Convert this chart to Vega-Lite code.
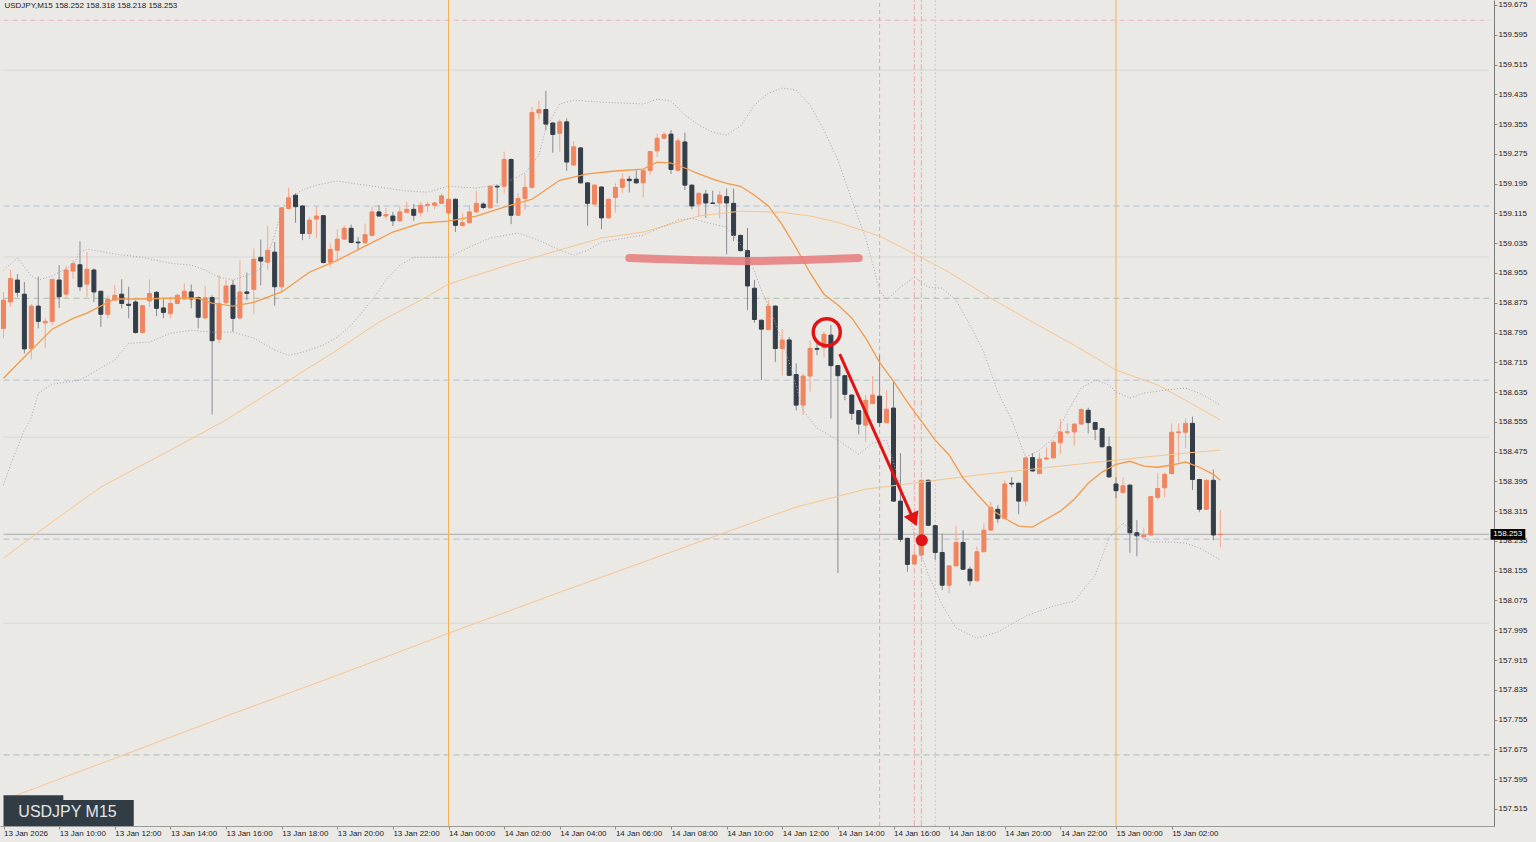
{
"$schema":"https://vega.github.io/schema/vega-lite/v6.json",
"width":1494,"height":826,
"autosize":{"type":"none"},
"padding":{"left":0,"top":0,"right":42,"bottom":16},
"background":"#EBE9E5",
"config":{"view":{"stroke":null},"font":"Liberation Sans","axis":{"labelFont":"Liberation Sans"}},
"datasets":{
"candles":[
{"t":"2026-01-13T08:00Z","o":158.806,"h":158.904,"l":158.780,"c":158.882},
{"t":"2026-01-13T08:15Z","o":158.877,"h":158.963,"l":158.864,"c":158.940},
{"t":"2026-01-13T08:30Z","o":158.936,"h":158.952,"l":158.891,"c":158.903},
{"t":"2026-01-13T08:45Z","o":158.898,"h":158.931,"l":158.739,"c":158.751},
{"t":"2026-01-13T09:00Z","o":158.752,"h":158.871,"l":158.723,"c":158.866},
{"t":"2026-01-13T09:15Z","o":158.866,"h":158.945,"l":158.806,"c":158.825},
{"t":"2026-01-13T09:30Z","o":158.821,"h":158.834,"l":158.754,"c":158.825},
{"t":"2026-01-13T09:45Z","o":158.825,"h":158.939,"l":158.815,"c":158.938},
{"t":"2026-01-13T10:00Z","o":158.936,"h":158.976,"l":158.861,"c":158.891},
{"t":"2026-01-13T10:15Z","o":158.898,"h":158.974,"l":158.885,"c":158.963},
{"t":"2026-01-13T10:30Z","o":158.960,"h":158.989,"l":158.939,"c":158.980},
{"t":"2026-01-13T10:45Z","o":158.977,"h":159.040,"l":158.906,"c":158.918},
{"t":"2026-01-13T11:00Z","o":158.925,"h":159.011,"l":158.891,"c":158.965},
{"t":"2026-01-13T11:15Z","o":158.963,"h":158.967,"l":158.877,"c":158.904},
{"t":"2026-01-13T11:30Z","o":158.906,"h":158.906,"l":158.810,"c":158.844},
{"t":"2026-01-13T11:45Z","o":158.844,"h":158.895,"l":158.833,"c":158.884},
{"t":"2026-01-13T12:00Z","o":158.882,"h":158.922,"l":158.880,"c":158.895},
{"t":"2026-01-13T12:15Z","o":158.898,"h":158.938,"l":158.860,"c":158.873},
{"t":"2026-01-13T12:30Z","o":158.871,"h":158.918,"l":158.833,"c":158.868},
{"t":"2026-01-13T12:45Z","o":158.877,"h":158.882,"l":158.792,"c":158.795},
{"t":"2026-01-13T13:00Z","o":158.795,"h":158.868,"l":158.793,"c":158.867},
{"t":"2026-01-13T13:15Z","o":158.880,"h":158.938,"l":158.864,"c":158.900},
{"t":"2026-01-13T13:30Z","o":158.903,"h":158.906,"l":158.839,"c":158.860},
{"t":"2026-01-13T13:45Z","o":158.861,"h":158.886,"l":158.833,"c":158.849},
{"t":"2026-01-13T14:00Z","o":158.846,"h":158.891,"l":158.833,"c":158.873},
{"t":"2026-01-13T14:15Z","o":158.873,"h":158.900,"l":158.871,"c":158.895},
{"t":"2026-01-13T14:30Z","o":158.885,"h":158.927,"l":158.883,"c":158.906},
{"t":"2026-01-13T14:45Z","o":158.904,"h":158.924,"l":158.860,"c":158.885},
{"t":"2026-01-13T15:00Z","o":158.889,"h":158.892,"l":158.806,"c":158.836},
{"t":"2026-01-13T15:15Z","o":158.834,"h":158.920,"l":158.832,"c":158.888},
{"t":"2026-01-13T15:30Z","o":158.889,"h":158.895,"l":158.575,"c":158.773},
{"t":"2026-01-13T15:45Z","o":158.777,"h":158.949,"l":158.766,"c":158.873},
{"t":"2026-01-13T16:00Z","o":158.875,"h":158.936,"l":158.873,"c":158.920},
{"t":"2026-01-13T16:15Z","o":158.922,"h":158.936,"l":158.797,"c":158.833},
{"t":"2026-01-13T16:30Z","o":158.834,"h":158.989,"l":158.830,"c":158.904},
{"t":"2026-01-13T16:45Z","o":158.904,"h":158.956,"l":158.882,"c":158.900},
{"t":"2026-01-13T17:00Z","o":158.911,"h":159.021,"l":158.846,"c":158.992},
{"t":"2026-01-13T17:15Z","o":158.997,"h":159.045,"l":158.922,"c":158.987},
{"t":"2026-01-13T17:30Z","o":158.984,"h":159.082,"l":158.963,"c":159.016},
{"t":"2026-01-13T17:45Z","o":159.011,"h":159.038,"l":158.867,"c":158.918},
{"t":"2026-01-13T18:00Z","o":158.918,"h":159.132,"l":158.904,"c":159.130},
{"t":"2026-01-13T18:15Z","o":159.128,"h":159.184,"l":159.126,"c":159.157},
{"t":"2026-01-13T18:30Z","o":159.164,"h":159.169,"l":159.090,"c":159.133},
{"t":"2026-01-13T18:45Z","o":159.135,"h":159.137,"l":159.043,"c":159.061},
{"t":"2026-01-13T19:00Z","o":159.061,"h":159.106,"l":159.046,"c":159.097},
{"t":"2026-01-13T19:15Z","o":159.100,"h":159.133,"l":159.048,"c":159.108},
{"t":"2026-01-13T19:30Z","o":159.109,"h":159.111,"l":158.981,"c":158.983},
{"t":"2026-01-13T19:45Z","o":158.984,"h":159.034,"l":158.970,"c":159.018},
{"t":"2026-01-13T20:00Z","o":159.016,"h":159.072,"l":158.989,"c":159.046},
{"t":"2026-01-13T20:15Z","o":159.046,"h":159.083,"l":159.044,"c":159.075},
{"t":"2026-01-13T20:30Z","o":159.075,"h":159.085,"l":159.035,"c":159.037},
{"t":"2026-01-13T20:45Z","o":159.038,"h":159.052,"l":159.018,"c":159.036},
{"t":"2026-01-13T21:00Z","o":159.036,"h":159.088,"l":159.034,"c":159.058},
{"t":"2026-01-13T21:15Z","o":159.056,"h":159.133,"l":159.054,"c":159.119},
{"t":"2026-01-13T21:30Z","o":159.119,"h":159.137,"l":159.106,"c":159.108},
{"t":"2026-01-13T21:45Z","o":159.108,"h":159.130,"l":159.099,"c":159.112},
{"t":"2026-01-13T22:00Z","o":159.108,"h":159.119,"l":159.081,"c":159.095},
{"t":"2026-01-13T22:15Z","o":159.095,"h":159.133,"l":159.093,"c":159.119},
{"t":"2026-01-13T22:30Z","o":159.118,"h":159.146,"l":159.116,"c":159.126},
{"t":"2026-01-13T22:45Z","o":159.126,"h":159.140,"l":159.095,"c":159.110},
{"t":"2026-01-13T23:00Z","o":159.118,"h":159.146,"l":159.106,"c":159.137},
{"t":"2026-01-13T23:15Z","o":159.137,"h":159.146,"l":159.119,"c":159.139},
{"t":"2026-01-13T23:30Z","o":159.137,"h":159.146,"l":159.126,"c":159.143},
{"t":"2026-01-13T23:45Z","o":159.142,"h":159.169,"l":159.140,"c":159.162},
{"t":"2026-01-14T00:00Z","o":159.116,"h":159.155,"l":159.114,"c":159.153},
{"t":"2026-01-14T00:15Z","o":159.153,"h":159.155,"l":159.065,"c":159.083},
{"t":"2026-01-14T00:30Z","o":159.082,"h":159.115,"l":159.080,"c":159.090},
{"t":"2026-01-14T00:45Z","o":159.090,"h":159.137,"l":159.088,"c":159.119},
{"t":"2026-01-14T01:00Z","o":159.119,"h":159.176,"l":159.117,"c":159.142},
{"t":"2026-01-14T01:15Z","o":159.140,"h":159.145,"l":159.127,"c":159.131},
{"t":"2026-01-14T01:30Z","o":159.130,"h":159.190,"l":159.128,"c":159.188},
{"t":"2026-01-14T01:45Z","o":159.188,"h":159.191,"l":159.142,"c":159.186},
{"t":"2026-01-14T02:00Z","o":159.188,"h":159.281,"l":159.169,"c":159.260},
{"t":"2026-01-14T02:15Z","o":159.260,"h":159.262,"l":159.086,"c":159.110},
{"t":"2026-01-14T02:30Z","o":159.110,"h":159.169,"l":159.108,"c":159.155},
{"t":"2026-01-14T02:45Z","o":159.155,"h":159.218,"l":159.124,"c":159.185},
{"t":"2026-01-14T03:00Z","o":159.185,"h":159.401,"l":159.183,"c":159.386},
{"t":"2026-01-14T03:15Z","o":159.385,"h":159.418,"l":159.368,"c":159.394},
{"t":"2026-01-14T03:30Z","o":159.394,"h":159.444,"l":159.339,"c":159.355},
{"t":"2026-01-14T03:45Z","o":159.358,"h":159.360,"l":159.278,"c":159.327},
{"t":"2026-01-14T04:00Z","o":159.330,"h":159.368,"l":159.281,"c":159.361},
{"t":"2026-01-14T04:15Z","o":159.361,"h":159.370,"l":159.229,"c":159.253},
{"t":"2026-01-14T04:30Z","o":159.245,"h":159.309,"l":159.243,"c":159.294},
{"t":"2026-01-14T04:45Z","o":159.291,"h":159.293,"l":159.195,"c":159.197},
{"t":"2026-01-14T05:00Z","o":159.197,"h":159.199,"l":159.082,"c":159.142},
{"t":"2026-01-14T05:15Z","o":159.140,"h":159.193,"l":159.138,"c":159.191},
{"t":"2026-01-14T05:30Z","o":159.186,"h":159.188,"l":159.073,"c":159.103},
{"t":"2026-01-14T05:45Z","o":159.103,"h":159.155,"l":159.101,"c":159.153},
{"t":"2026-01-14T06:00Z","o":159.158,"h":159.196,"l":159.117,"c":159.185},
{"t":"2026-01-14T06:15Z","o":159.185,"h":159.222,"l":159.169,"c":159.207},
{"t":"2026-01-14T06:30Z","o":159.207,"h":159.216,"l":159.171,"c":159.203},
{"t":"2026-01-14T06:45Z","o":159.207,"h":159.231,"l":159.195,"c":159.197},
{"t":"2026-01-14T07:00Z","o":159.197,"h":159.232,"l":159.158,"c":159.230},
{"t":"2026-01-14T07:15Z","o":159.230,"h":159.283,"l":159.218,"c":159.281},
{"t":"2026-01-14T07:30Z","o":159.283,"h":159.330,"l":159.267,"c":159.317},
{"t":"2026-01-14T07:45Z","o":159.317,"h":159.334,"l":159.315,"c":159.327},
{"t":"2026-01-14T08:00Z","o":159.328,"h":159.339,"l":159.221,"c":159.233},
{"t":"2026-01-14T08:15Z","o":159.231,"h":159.317,"l":159.229,"c":159.310},
{"t":"2026-01-14T08:30Z","o":159.307,"h":159.332,"l":159.178,"c":159.191},
{"t":"2026-01-14T08:45Z","o":159.191,"h":159.193,"l":159.126,"c":159.135},
{"t":"2026-01-14T09:00Z","o":159.140,"h":159.171,"l":159.106,"c":159.169},
{"t":"2026-01-14T09:15Z","o":159.167,"h":159.178,"l":159.103,"c":159.143},
{"t":"2026-01-14T09:30Z","o":159.143,"h":159.176,"l":159.140,"c":159.142},
{"t":"2026-01-14T09:45Z","o":159.143,"h":159.175,"l":159.102,"c":159.164},
{"t":"2026-01-14T10:00Z","o":159.160,"h":159.182,"l":159.005,"c":159.143},
{"t":"2026-01-14T10:15Z","o":159.142,"h":159.182,"l":159.041,"c":159.056},
{"t":"2026-01-14T10:30Z","o":159.056,"h":159.058,"l":159.013,"c":159.015},
{"t":"2026-01-14T10:45Z","o":159.015,"h":159.076,"l":158.855,"c":158.920},
{"t":"2026-01-14T11:00Z","o":158.914,"h":158.936,"l":158.821,"c":158.830},
{"t":"2026-01-14T11:15Z","o":158.828,"h":158.830,"l":158.667,"c":158.804},
{"t":"2026-01-14T11:30Z","o":158.803,"h":158.882,"l":158.801,"c":158.866},
{"t":"2026-01-14T11:45Z","o":158.866,"h":158.868,"l":158.716,"c":158.752},
{"t":"2026-01-14T12:00Z","o":158.752,"h":158.804,"l":158.680,"c":158.775},
{"t":"2026-01-14T12:15Z","o":158.775,"h":158.783,"l":158.678,"c":158.680},
{"t":"2026-01-14T12:30Z","o":158.682,"h":158.712,"l":158.586,"c":158.600},
{"t":"2026-01-14T12:45Z","o":158.600,"h":158.685,"l":158.573,"c":158.678},
{"t":"2026-01-14T13:00Z","o":158.678,"h":158.773,"l":158.636,"c":158.752},
{"t":"2026-01-14T13:15Z","o":158.752,"h":158.770,"l":158.734,"c":158.750},
{"t":"2026-01-14T13:30Z","o":158.754,"h":158.797,"l":158.728,"c":158.790},
{"t":"2026-01-14T13:45Z","o":158.788,"h":158.815,"l":158.564,"c":158.706},
{"t":"2026-01-14T14:00Z","o":158.706,"h":158.708,"l":158.149,"c":158.679},
{"t":"2026-01-14T14:15Z","o":158.679,"h":158.681,"l":158.613,"c":158.629},
{"t":"2026-01-14T14:30Z","o":158.627,"h":158.629,"l":158.560,"c":158.578},
{"t":"2026-01-14T14:45Z","o":158.585,"h":158.587,"l":158.521,"c":158.549},
{"t":"2026-01-14T15:00Z","o":158.546,"h":158.627,"l":158.501,"c":158.613},
{"t":"2026-01-14T15:15Z","o":158.604,"h":158.678,"l":158.602,"c":158.627},
{"t":"2026-01-14T15:30Z","o":158.624,"h":158.734,"l":158.541,"c":158.553},
{"t":"2026-01-14T15:45Z","o":158.553,"h":158.640,"l":158.551,"c":158.589},
{"t":"2026-01-14T16:00Z","o":158.592,"h":158.662,"l":158.340,"c":158.342},
{"t":"2026-01-14T16:15Z","o":158.342,"h":158.471,"l":158.232,"c":158.239},
{"t":"2026-01-14T16:30Z","o":158.242,"h":158.244,"l":158.152,"c":158.172},
{"t":"2026-01-14T16:45Z","o":158.173,"h":158.210,"l":158.171,"c":158.197},
{"t":"2026-01-14T17:00Z","o":158.197,"h":158.400,"l":158.195,"c":158.398},
{"t":"2026-01-14T17:15Z","o":158.398,"h":158.400,"l":158.275,"c":158.277},
{"t":"2026-01-14T17:30Z","o":158.276,"h":158.278,"l":158.184,"c":158.204},
{"t":"2026-01-14T17:45Z","o":158.204,"h":158.255,"l":158.103,"c":158.116},
{"t":"2026-01-14T18:00Z","o":158.116,"h":158.170,"l":158.094,"c":158.168},
{"t":"2026-01-14T18:15Z","o":158.168,"h":158.276,"l":158.166,"c":158.231},
{"t":"2026-01-14T18:30Z","o":158.231,"h":158.264,"l":158.157,"c":158.159},
{"t":"2026-01-14T18:45Z","o":158.159,"h":158.166,"l":158.115,"c":158.128},
{"t":"2026-01-14T19:00Z","o":158.128,"h":158.220,"l":158.126,"c":158.206},
{"t":"2026-01-14T19:15Z","o":158.206,"h":158.282,"l":158.204,"c":158.264},
{"t":"2026-01-14T19:30Z","o":158.264,"h":158.340,"l":158.262,"c":158.325},
{"t":"2026-01-14T19:45Z","o":158.320,"h":158.331,"l":158.284,"c":158.295},
{"t":"2026-01-14T20:00Z","o":158.295,"h":158.398,"l":158.293,"c":158.388},
{"t":"2026-01-14T20:15Z","o":158.390,"h":158.406,"l":158.379,"c":158.388},
{"t":"2026-01-14T20:30Z","o":158.390,"h":158.392,"l":158.307,"c":158.342},
{"t":"2026-01-14T20:45Z","o":158.342,"h":158.460,"l":158.329,"c":158.458},
{"t":"2026-01-14T21:00Z","o":158.459,"h":158.471,"l":158.421,"c":158.423},
{"t":"2026-01-14T21:15Z","o":158.416,"h":158.471,"l":158.414,"c":158.455},
{"t":"2026-01-14T21:30Z","o":158.455,"h":158.486,"l":158.453,"c":158.458},
{"t":"2026-01-14T21:45Z","o":158.458,"h":158.506,"l":158.456,"c":158.500},
{"t":"2026-01-14T22:00Z","o":158.499,"h":158.562,"l":158.468,"c":158.528},
{"t":"2026-01-14T22:15Z","o":158.527,"h":158.551,"l":158.520,"c":158.528},
{"t":"2026-01-14T22:30Z","o":158.528,"h":158.551,"l":158.490,"c":158.549},
{"t":"2026-01-14T22:45Z","o":158.549,"h":158.593,"l":158.547,"c":158.588},
{"t":"2026-01-14T23:00Z","o":158.586,"h":158.593,"l":158.524,"c":158.553},
{"t":"2026-01-14T23:15Z","o":158.553,"h":158.555,"l":158.506,"c":158.535},
{"t":"2026-01-14T23:30Z","o":158.537,"h":158.539,"l":158.486,"c":158.488},
{"t":"2026-01-14T23:45Z","o":158.488,"h":158.515,"l":158.405,"c":158.407},
{"t":"2026-01-15T00:00Z","o":158.388,"h":158.406,"l":158.350,"c":158.370},
{"t":"2026-01-15T00:15Z","o":158.365,"h":158.406,"l":158.363,"c":158.383},
{"t":"2026-01-15T00:30Z","o":158.385,"h":158.387,"l":158.203,"c":158.257},
{"t":"2026-01-15T00:45Z","o":158.257,"h":158.291,"l":158.194,"c":158.249},
{"t":"2026-01-15T01:00Z","o":158.246,"h":158.271,"l":158.244,"c":158.251},
{"t":"2026-01-15T01:15Z","o":158.251,"h":158.356,"l":158.249,"c":158.354},
{"t":"2026-01-15T01:30Z","o":158.352,"h":158.418,"l":158.345,"c":158.376},
{"t":"2026-01-15T01:45Z","o":158.378,"h":158.418,"l":158.352,"c":158.414},
{"t":"2026-01-15T02:00Z","o":158.416,"h":158.551,"l":158.414,"c":158.527},
{"t":"2026-01-15T02:15Z","o":158.526,"h":158.551,"l":158.447,"c":158.528},
{"t":"2026-01-15T02:30Z","o":158.527,"h":158.564,"l":158.484,"c":158.551},
{"t":"2026-01-15T02:45Z","o":158.551,"h":158.569,"l":158.372,"c":158.400},
{"t":"2026-01-15T03:00Z","o":158.400,"h":158.402,"l":158.312,"c":158.320},
{"t":"2026-01-15T03:15Z","o":158.320,"h":158.400,"l":158.318,"c":158.398},
{"t":"2026-01-15T03:30Z","o":158.398,"h":158.427,"l":158.237,"c":158.251},
{"t":"2026-01-15T03:45Z","o":158.252,"h":158.318,"l":158.218,"c":158.253}
],
"ma":[
{"t":"2026-01-13T08:00Z","v":158.672},{"t":"2026-01-13T08:45Z","v":158.729},{"t":"2026-01-13T09:45Z","v":158.804},{"t":"2026-01-13T10:30Z","v":158.833},{"t":"2026-01-13T11:00Z","v":158.847},{"t":"2026-01-13T12:00Z","v":158.885},{"t":"2026-01-13T12:45Z","v":158.885},{"t":"2026-01-13T14:00Z","v":158.887},{"t":"2026-01-13T15:00Z","v":158.887},{"t":"2026-01-13T15:30Z","v":158.874},{"t":"2026-01-13T16:15Z","v":158.866},{"t":"2026-01-13T17:00Z","v":158.876},{"t":"2026-01-13T18:00Z","v":158.904},{"t":"2026-01-13T19:00Z","v":158.957},{"t":"2026-01-13T20:00Z","v":158.989},{"t":"2026-01-13T21:00Z","v":159.027},{"t":"2026-01-13T22:00Z","v":159.065},{"t":"2026-01-13T23:00Z","v":159.089},{"t":"2026-01-14T00:00Z","v":159.094},{"t":"2026-01-14T01:00Z","v":159.108},{"t":"2026-01-14T02:00Z","v":159.132},{"t":"2026-01-14T03:00Z","v":159.153},{"t":"2026-01-14T04:00Z","v":159.204},{"t":"2026-01-14T05:00Z","v":159.221},{"t":"2026-01-14T06:00Z","v":159.229},{"t":"2026-01-14T07:00Z","v":159.234},{"t":"2026-01-14T07:30Z","v":159.253},{"t":"2026-01-14T08:00Z","v":159.250},{"t":"2026-01-14T08:30Z","v":159.237},{"t":"2026-01-14T09:00Z","v":159.221},{"t":"2026-01-14T09:30Z","v":159.207},{"t":"2026-01-14T10:00Z","v":159.196},{"t":"2026-01-14T10:30Z","v":159.188},{"t":"2026-01-14T11:00Z","v":159.164},{"t":"2026-01-14T11:30Z","v":159.135},{"t":"2026-01-14T12:00Z","v":159.084},{"t":"2026-01-14T12:30Z","v":159.022},{"t":"2026-01-14T13:00Z","v":158.955},{"t":"2026-01-14T13:30Z","v":158.898},{"t":"2026-01-14T14:00Z","v":158.869},{"t":"2026-01-14T14:30Z","v":158.834},{"t":"2026-01-14T15:00Z","v":158.780},{"t":"2026-01-14T15:30Z","v":158.715},{"t":"2026-01-14T16:00Z","v":158.664},{"t":"2026-01-14T16:30Z","v":158.608},{"t":"2026-01-14T17:00Z","v":158.557},{"t":"2026-01-14T17:30Z","v":158.506},{"t":"2026-01-14T18:00Z","v":158.466},{"t":"2026-01-14T18:30Z","v":158.404},{"t":"2026-01-14T19:00Z","v":158.361},{"t":"2026-01-14T19:30Z","v":158.320},{"t":"2026-01-14T20:00Z","v":158.296},{"t":"2026-01-14T20:30Z","v":158.275},{"t":"2026-01-14T21:00Z","v":158.272},{"t":"2026-01-14T21:30Z","v":158.294},{"t":"2026-01-14T22:00Z","v":158.315},{"t":"2026-01-14T22:30Z","v":158.347},{"t":"2026-01-14T23:00Z","v":158.390},{"t":"2026-01-14T23:30Z","v":158.420},{"t":"2026-01-15T00:00Z","v":158.441},{"t":"2026-01-15T00:30Z","v":158.449},{"t":"2026-01-15T01:00Z","v":158.436},{"t":"2026-01-15T01:30Z","v":158.433},{"t":"2026-01-15T02:00Z","v":158.439},{"t":"2026-01-15T02:30Z","v":158.447},{"t":"2026-01-15T03:00Z","v":158.433},{"t":"2026-01-15T03:30Z","v":158.414},{"t":"2026-01-15T03:45Z","v":158.398}
],
"slow":[
{"t":"2026-01-13T08:00Z","s":"a","v":158.189},{"t":"2026-01-13T09:45Z","s":"a","v":158.286},{"t":"2026-01-13T11:30Z","s":"a","v":158.380},{"t":"2026-01-13T14:00Z","s":"a","v":158.479},{"t":"2026-01-13T16:00Z","s":"a","v":158.560},{"t":"2026-01-13T18:00Z","s":"a","v":158.654},{"t":"2026-01-13T20:00Z","s":"a","v":158.748},{"t":"2026-01-13T21:30Z","s":"a","v":158.823},{"t":"2026-01-13T23:00Z","s":"a","v":158.882},{"t":"2026-01-14T00:00Z","s":"a","v":158.925},{"t":"2026-01-14T02:00Z","s":"a","v":158.973},{"t":"2026-01-14T03:30Z","s":"a","v":159.006},{"t":"2026-01-14T05:30Z","s":"a","v":159.049},{"t":"2026-01-14T07:00Z","s":"a","v":159.065},{"t":"2026-01-14T08:00Z","s":"a","v":159.086},{"t":"2026-01-14T09:00Z","s":"a","v":159.108},{"t":"2026-01-14T10:30Z","s":"a","v":159.121},{"t":"2026-01-14T12:00Z","s":"a","v":159.118},{"t":"2026-01-14T13:00Z","s":"a","v":159.108},{"t":"2026-01-14T14:00Z","s":"a","v":159.091},{"t":"2026-01-14T15:30Z","s":"a","v":159.054},{"t":"2026-01-14T16:30Z","s":"a","v":159.016},{"t":"2026-01-14T18:00Z","s":"a","v":158.957},{"t":"2026-01-14T19:30Z","s":"a","v":158.887},{"t":"2026-01-14T21:00Z","s":"a","v":158.823},{"t":"2026-01-14T22:30Z","s":"a","v":158.761},{"t":"2026-01-15T00:00Z","s":"a","v":158.694},{"t":"2026-01-15T01:30Z","s":"a","v":158.654},{"t":"2026-01-15T02:30Z","s":"a","v":158.613},{"t":"2026-01-15T03:45Z","s":"a","v":158.560},
{"t":"2026-01-13T08:00Z","s":"b","v":157.539},{"t":"2026-01-13T12:00Z","s":"b","v":157.651},{"t":"2026-01-13T16:00Z","s":"b","v":157.764},{"t":"2026-01-13T20:00Z","s":"b","v":157.874},{"t":"2026-01-14T00:00Z","s":"b","v":157.987},{"t":"2026-01-14T04:00Z","s":"b","v":158.097},{"t":"2026-01-14T08:00Z","s":"b","v":158.205},{"t":"2026-01-14T11:00Z","s":"b","v":158.286},{"t":"2026-01-14T12:30Z","s":"b","v":158.326},{"t":"2026-01-14T15:00Z","s":"b","v":158.374},{"t":"2026-01-14T17:00Z","s":"b","v":158.393},{"t":"2026-01-14T19:00Z","s":"b","v":158.412},{"t":"2026-01-14T21:00Z","s":"b","v":158.428},{"t":"2026-01-14T23:00Z","s":"b","v":158.444},{"t":"2026-01-15T01:00Z","s":"b","v":158.460},{"t":"2026-01-15T02:30Z","s":"b","v":158.471},{"t":"2026-01-15T03:45Z","s":"b","v":158.479}
],
"bb":[
{"t":"2026-01-13T08:00Z","s":"u","v":158.963},{"t":"2026-01-13T08:30Z","s":"u","v":158.995},{"t":"2026-01-13T09:00Z","s":"u","v":158.947},{"t":"2026-01-13T09:15Z","s":"u","v":158.936},{"t":"2026-01-13T09:45Z","s":"u","v":158.947},{"t":"2026-01-13T10:30Z","s":"u","v":158.976},{"t":"2026-01-13T10:45Z","s":"u","v":159.011},{"t":"2026-01-13T11:00Z","s":"u","v":159.019},{"t":"2026-01-13T11:15Z","s":"u","v":159.016},{"t":"2026-01-13T12:00Z","s":"u","v":159.006},{"t":"2026-01-13T13:00Z","s":"u","v":158.997},{"t":"2026-01-13T13:30Z","s":"u","v":158.989},{"t":"2026-01-13T14:00Z","s":"u","v":158.981},{"t":"2026-01-13T14:45Z","s":"u","v":158.976},{"t":"2026-01-13T15:15Z","s":"u","v":158.963},{"t":"2026-01-13T15:45Z","s":"u","v":158.944},{"t":"2026-01-13T16:15Z","s":"u","v":158.936},{"t":"2026-01-13T17:00Z","s":"u","v":158.955},{"t":"2026-01-13T17:15Z","s":"u","v":158.968},{"t":"2026-01-13T17:30Z","s":"u","v":159.003},{"t":"2026-01-13T17:45Z","s":"u","v":159.057},{"t":"2026-01-13T18:00Z","s":"u","v":159.124},{"t":"2026-01-13T18:15Z","s":"u","v":159.156},{"t":"2026-01-13T18:45Z","s":"u","v":159.178},{"t":"2026-01-13T19:15Z","s":"u","v":159.191},{"t":"2026-01-13T20:00Z","s":"u","v":159.202},{"t":"2026-01-13T20:30Z","s":"u","v":159.196},{"t":"2026-01-13T21:30Z","s":"u","v":159.186},{"t":"2026-01-13T22:30Z","s":"u","v":159.175},{"t":"2026-01-13T23:15Z","s":"u","v":159.172},{"t":"2026-01-14T00:00Z","s":"u","v":159.188},{"t":"2026-01-14T01:00Z","s":"u","v":159.183},{"t":"2026-01-14T02:00Z","s":"u","v":159.196},{"t":"2026-01-14T02:45Z","s":"u","v":159.223},{"t":"2026-01-14T03:15Z","s":"u","v":159.272},{"t":"2026-01-14T03:30Z","s":"u","v":159.344},{"t":"2026-01-14T04:00Z","s":"u","v":159.409},{"t":"2026-01-14T04:30Z","s":"u","v":159.419},{"t":"2026-01-14T05:30Z","s":"u","v":159.414},{"t":"2026-01-14T07:00Z","s":"u","v":159.409},{"t":"2026-01-14T07:30Z","s":"u","v":159.422},{"t":"2026-01-14T08:00Z","s":"u","v":159.417},{"t":"2026-01-14T08:30Z","s":"u","v":159.379},{"t":"2026-01-14T09:00Z","s":"u","v":159.352},{"t":"2026-01-14T09:30Z","s":"u","v":159.333},{"t":"2026-01-14T10:00Z","s":"u","v":159.325},{"t":"2026-01-14T10:30Z","s":"u","v":159.350},{"t":"2026-01-14T11:00Z","s":"u","v":159.406},{"t":"2026-01-14T11:30Z","s":"u","v":159.438},{"t":"2026-01-14T12:00Z","s":"u","v":159.452},{"t":"2026-01-14T12:30Z","s":"u","v":159.446},{"t":"2026-01-14T13:00Z","s":"u","v":159.406},{"t":"2026-01-14T13:30Z","s":"u","v":159.339},{"t":"2026-01-14T14:00Z","s":"u","v":159.258},{"t":"2026-01-14T14:30Z","s":"u","v":159.151},{"t":"2026-01-14T15:00Z","s":"u","v":159.049},{"t":"2026-01-14T15:30Z","s":"u","v":158.909},{"t":"2026-01-14T15:45Z","s":"u","v":158.882},{"t":"2026-01-14T16:15Z","s":"u","v":158.917},{"t":"2026-01-14T16:45Z","s":"u","v":158.944},{"t":"2026-01-14T17:15Z","s":"u","v":158.917},{"t":"2026-01-14T17:45Z","s":"u","v":158.914},{"t":"2026-01-14T18:15Z","s":"u","v":158.882},{"t":"2026-01-14T18:45Z","s":"u","v":158.815},{"t":"2026-01-14T19:15Z","s":"u","v":158.742},{"t":"2026-01-14T19:45Z","s":"u","v":158.635},{"t":"2026-01-14T20:15Z","s":"u","v":158.560},{"t":"2026-01-14T20:45Z","s":"u","v":158.460},{"t":"2026-01-14T21:15Z","s":"u","v":158.479},{"t":"2026-01-14T21:45Z","s":"u","v":158.511},{"t":"2026-01-14T22:15Z","s":"u","v":158.581},{"t":"2026-01-14T22:45Z","s":"u","v":158.646},{"t":"2026-01-14T23:15Z","s":"u","v":158.667},{"t":"2026-01-14T23:45Z","s":"u","v":158.654},{"t":"2026-01-15T00:00Z","s":"u","v":158.635},{"t":"2026-01-15T00:30Z","s":"u","v":158.619},{"t":"2026-01-15T01:00Z","s":"u","v":158.632},{"t":"2026-01-15T01:45Z","s":"u","v":158.640},{"t":"2026-01-15T02:30Z","s":"u","v":158.646},{"t":"2026-01-15T03:00Z","s":"u","v":158.632},{"t":"2026-01-15T03:45Z","s":"u","v":158.600},
{"t":"2026-01-13T08:00Z","s":"l","v":158.385},{"t":"2026-01-13T08:15Z","s":"l","v":158.439},{"t":"2026-01-13T08:45Z","s":"l","v":158.533},{"t":"2026-01-13T09:00Z","s":"l","v":158.565},{"t":"2026-01-13T09:15Z","s":"l","v":158.632},{"t":"2026-01-13T09:45Z","s":"l","v":158.656},{"t":"2026-01-13T10:45Z","s":"l","v":158.667},{"t":"2026-01-13T11:15Z","s":"l","v":158.689},{"t":"2026-01-13T12:00Z","s":"l","v":158.721},{"t":"2026-01-13T12:30Z","s":"l","v":158.766},{"t":"2026-01-13T13:15Z","s":"l","v":158.769},{"t":"2026-01-13T14:00Z","s":"l","v":158.793},{"t":"2026-01-13T14:45Z","s":"l","v":158.801},{"t":"2026-01-13T15:30Z","s":"l","v":158.796},{"t":"2026-01-13T16:15Z","s":"l","v":158.796},{"t":"2026-01-13T17:00Z","s":"l","v":158.780},{"t":"2026-01-13T17:45Z","s":"l","v":158.748},{"t":"2026-01-13T18:15Z","s":"l","v":158.734},{"t":"2026-01-13T18:45Z","s":"l","v":158.742},{"t":"2026-01-13T19:30Z","s":"l","v":158.761},{"t":"2026-01-13T20:00Z","s":"l","v":158.783},{"t":"2026-01-13T20:30Z","s":"l","v":158.815},{"t":"2026-01-13T21:15Z","s":"l","v":158.882},{"t":"2026-01-13T21:45Z","s":"l","v":158.936},{"t":"2026-01-13T22:15Z","s":"l","v":158.976},{"t":"2026-01-13T22:45Z","s":"l","v":158.997},{"t":"2026-01-14T00:00Z","s":"l","v":158.997},{"t":"2026-01-14T00:30Z","s":"l","v":159.016},{"t":"2026-01-14T01:30Z","s":"l","v":159.049},{"t":"2026-01-14T02:30Z","s":"l","v":159.062},{"t":"2026-01-14T03:15Z","s":"l","v":159.043},{"t":"2026-01-14T04:00Z","s":"l","v":159.016},{"t":"2026-01-14T04:30Z","s":"l","v":159.003},{"t":"2026-01-14T05:00Z","s":"l","v":159.016},{"t":"2026-01-14T05:30Z","s":"l","v":159.038},{"t":"2026-01-14T07:00Z","s":"l","v":159.057},{"t":"2026-01-14T08:15Z","s":"l","v":159.097},{"t":"2026-01-14T08:45Z","s":"l","v":159.102},{"t":"2026-01-14T09:15Z","s":"l","v":159.091},{"t":"2026-01-14T10:00Z","s":"l","v":159.078},{"t":"2026-01-14T10:45Z","s":"l","v":159.008},{"t":"2026-01-14T11:15Z","s":"l","v":158.909},{"t":"2026-01-14T11:45Z","s":"l","v":158.823},{"t":"2026-01-14T12:15Z","s":"l","v":158.715},{"t":"2026-01-14T12:45Z","s":"l","v":158.586},{"t":"2026-01-14T13:15Z","s":"l","v":158.538},{"t":"2026-01-14T14:00Z","s":"l","v":158.506},{"t":"2026-01-14T14:45Z","s":"l","v":158.468},{"t":"2026-01-14T15:15Z","s":"l","v":158.498},{"t":"2026-01-14T15:45Z","s":"l","v":158.506},{"t":"2026-01-14T16:15Z","s":"l","v":158.385},{"t":"2026-01-14T16:45Z","s":"l","v":158.251},{"t":"2026-01-14T17:15Z","s":"l","v":158.143},{"t":"2026-01-14T17:45Z","s":"l","v":158.063},{"t":"2026-01-14T18:15Z","s":"l","v":158.001},{"t":"2026-01-14T19:00Z","s":"l","v":157.974},{"t":"2026-01-14T19:45Z","s":"l","v":157.990},{"t":"2026-01-14T20:45Z","s":"l","v":158.033},{"t":"2026-01-14T21:45Z","s":"l","v":158.060},{"t":"2026-01-14T22:30Z","s":"l","v":158.073},{"t":"2026-01-14T23:15Z","s":"l","v":158.143},{"t":"2026-01-14T23:45Z","s":"l","v":158.243},{"t":"2026-01-15T00:15Z","s":"l","v":158.283},{"t":"2026-01-15T00:45Z","s":"l","v":158.251},{"t":"2026-01-15T01:15Z","s":"l","v":158.232},{"t":"2026-01-15T02:00Z","s":"l","v":158.232},{"t":"2026-01-15T02:30Z","s":"l","v":158.229},{"t":"2026-01-15T03:00Z","s":"l","v":158.216},{"t":"2026-01-15T03:45Z","s":"l","v":158.184}
]
},
"encoding":{
 "x":{"field":"t","type":"temporal","scale":{"type":"utc","domain":[1768291392857,1768483478571]},
  "axis":{"values":[1768291200000,1768298400000,1768305600000,1768312800000,1768320000000,1768327200000,1768334400000,1768341600000,1768348800000,1768356000000,1768363200000,1768370400000,1768377600000,1768384800000,1768392000000,1768399200000,1768406400000,1768413600000,1768420800000,1768428000000,1768435200000,1768442400000],
   "labelExpr":"time(datum.value) == 1768291200000 ? '13 Jan 2026' : utcFormat(datum.value, '%d %b %H:%M')",
   "title":null,"grid":false,"labelAlign":"left","labelFontSize":8,"labelColor":"#1A1A1A","labelPadding":0,"tickSize":3,"tickColor":"#8C8C8C","domainColor":"#9A9A9A","labelFlush":false,"labelOverlap":false,"labelBound":false}},
 "y":{"field":"v","type":"quantitative","scale":{"domain":[157.4691,159.6884],"zero":false,"nice":false},
  "axis":{"orient":"right","values":[157.515,157.595,157.675,157.755,157.835,157.915,157.995,158.075,158.155,158.235,158.315,158.395,158.475,158.555,158.635,158.715,158.795,158.875,158.955,159.035,159.115,159.195,159.275,159.355,159.435,159.515,159.595,159.675],"format":".3f","title":null,"grid":false,"labelFontSize":8,"labelColor":"#1A1A1A","labelPadding":1,"tickSize":3,"tickColor":"#8C8C8C","domainColor":"#7A7A7A","labelOverlap":false,"labelFlush":false,"labelBound":false}}
},
"layer":[
{"data":{"values":[{"t":"2026-01-13T08:00Z","t2":"2026-01-15T13:25Z","v":159.500},{"t":"2026-01-13T08:00Z","t2":"2026-01-15T13:25Z","v":158.998},{"t":"2026-01-13T08:00Z","t2":"2026-01-15T13:25Z","v":158.514},{"t":"2026-01-13T08:00Z","t2":"2026-01-15T13:25Z","v":158.014}]},
 "mark":{"type":"rule","strokeWidth":1,"color":"#D9D7D3"},"encoding":{"x2":{"field":"t2"}}},
{"data":{"values":[{"t":"2026-01-13T08:00Z","t2":"2026-01-15T13:25Z","v":159.634}]},
 "mark":{"type":"rule","strokeWidth":1,"color":"#EDB5BE","strokeDash":[5,4]},"encoding":{"x2":{"field":"t2"}}},
{"data":{"values":[{"t":"2026-01-13T08:00Z","t2":"2026-01-15T13:25Z","v":159.135},{"t":"2026-01-13T08:00Z","t2":"2026-01-15T13:25Z","v":158.667},{"t":"2026-01-13T08:00Z","t2":"2026-01-15T13:25Z","v":158.240}]},
 "mark":{"type":"rule","strokeWidth":1,"color":"#AFC0D3","strokeDash":[6,4]},"encoding":{"x2":{"field":"t2"}}},
{"data":{"values":[{"t":"2026-01-13T08:00Z","t2":"2026-01-15T13:25Z","v":158.887},{"t":"2026-01-13T08:00Z","t2":"2026-01-15T13:25Z","v":157.660}]},
 "mark":{"type":"rule","strokeWidth":1,"color":"#A9BFA9","strokeDash":[6,4]},"encoding":{"x2":{"field":"t2"}}},
{"data":{"values":[{"t":"2026-01-13T08:00Z","t2":"2026-01-15T13:25Z","v":158.253}]},
 "mark":{"type":"rule","strokeWidth":1,"color":"#A8A8A8"},"encoding":{"x2":{"field":"t2"}}},
{"data":{"values":[{"t":"2026-01-14T00:00Z","v":157.4691,"v2":159.6884},{"t":"2026-01-15T00:00Z","v":157.4691,"v2":159.6884}]},
 "mark":{"type":"rule","strokeWidth":1,"color":"#F5B14F"},"encoding":{"y2":{"field":"v2"}}},
{"data":{"values":[{"t":"2026-01-14T15:30Z","v":157.4691,"v2":159.6884}]},
 "mark":{"type":"rule","strokeWidth":1,"color":"#F0A3A3","strokeDash":[4,3]},"encoding":{"y2":{"field":"v2"}}},
{"data":{"values":[{"t":"2026-01-14T16:45Z","v":157.4691,"v2":159.6884},{"t":"2026-01-14T17:00Z","v":157.4691,"v2":159.6884}]},
 "mark":{"type":"rule","strokeWidth":1,"color":"#F0A8A8","strokeDash":[6,2,2,2]},"encoding":{"y2":{"field":"v2"}}},
{"data":{"values":[{"t":"2026-01-14T17:30Z","v":157.4691,"v2":159.6884}]},
 "mark":{"type":"rule","strokeWidth":1,"color":"#C8C6C8","strokeDash":[2,2]},"encoding":{"y2":{"field":"v2"}}},
{"data":{"name":"candles"},"mark":{"type":"rule","strokeWidth":1},
 "encoding":{
  "y":{"field":"l","type":"quantitative","scale":{"domain":[157.4691,159.6884],"zero":false,"nice":false},
   "axis":{"orient":"right","values":[157.515,157.595,157.675,157.755,157.835,157.915,157.995,158.075,158.155,158.235,158.315,158.395,158.475,158.555,158.635,158.715,158.795,158.875,158.955,159.035,159.115,159.195,159.275,159.355,159.435,159.515,159.595,159.675],"format":".3f","title":null,"grid":false,"labelFontSize":8,"labelColor":"#1A1A1A","labelPadding":1,"tickSize":3,"tickColor":"#8C8C8C","domainColor":"#7A7A7A","labelOverlap":false,"labelFlush":false,"labelBound":false}},
  "y2":{"field":"h"},
  "color":{"condition":{"test":"datum.c >= datum.o","value":"#F2A98F"},"value":"#868A90"}
 }},
{"data":{"name":"candles"},"mark":{"type":"bar","width":4,"strokeWidth":1},
 "encoding":{
  "y":{"field":"o","type":"quantitative","scale":{"domain":[157.4691,159.6884],"zero":false,"nice":false},
   "axis":{"orient":"right","values":[157.515,157.595,157.675,157.755,157.835,157.915,157.995,158.075,158.155,158.235,158.315,158.395,158.475,158.555,158.635,158.715,158.795,158.875,158.955,159.035,159.115,159.195,159.275,159.355,159.435,159.515,159.595,159.675],"format":".3f","title":null,"grid":false,"labelFontSize":8,"labelColor":"#1A1A1A","labelPadding":1,"tickSize":3,"tickColor":"#8C8C8C","domainColor":"#7A7A7A","labelOverlap":false,"labelFlush":false,"labelBound":false}},
  "y2":{"field":"c"},
  "color":{"condition":{"test":"datum.c >= datum.o","value":"#EF8660"},"value":"#333E48"},
  "stroke":{"condition":{"test":"datum.c >= datum.o","value":"#EF8660"},"value":"#333E48"}
 }},
{"data":{"name":"slow"},"mark":{"type":"line","strokeWidth":1,"color":"#F7C58E"},"encoding":{"detail":{"field":"s","type":"nominal"}}},
{"data":{"name":"bb"},"mark":{"type":"line","strokeWidth":1,"color":"#A8A4B6","strokeDash":[1,2]},"encoding":{"detail":{"field":"s","type":"nominal"}}},
{"data":{"name":"ma"},"mark":{"type":"line","strokeWidth":1.3,"color":"#F29A4B"}},
{"data":{"values":[{"t":"2026-01-14T06:30Z","v":158.995},{"t":"2026-01-14T10:45Z","v":158.987},{"t":"2026-01-14T14:45Z","v":158.995}]},
 "mark":{"type":"line","strokeWidth":8,"strokeCap":"round","color":"#E67B7B","opacity":0.85,"interpolate":"monotone"}},
{"data":{"values":[{"t":"2026-01-14T14:04Z","v":158.737},{"t":"2026-01-14T16:41Z","v":158.299}]},
 "mark":{"type":"line","strokeWidth":3,"color":"#E01414"}},
{"data":{"values":[{"t":"2026-01-14T16:44Z","v":158.292}]},
 "mark":{"type":"point","shape":"triangle-down","angle":-24,"size":256,"filled":true,"opacity":1,"color":"#E01414"}},
{"data":{"values":[{"t":"2026-01-14T13:36Z","v":158.796}]},
 "mark":{"type":"point","shape":"circle","size":729,"filled":false,"strokeWidth":3.5,"opacity":1,"color":"#E01414"}},
{"data":{"values":[{"t":"2026-01-14T17:01Z","v":158.237}]},
 "mark":{"type":"point","shape":"circle","size":144,"filled":true,"opacity":1,"color":"#E01414"}},
{"data":{"values":[{"t":"2026-01-13T08:02Z","v":159.668,"txt":"USDJPY,M15  158.252 158.318 158.218 158.253"}]},
 "mark":{"type":"text","align":"left","baseline":"alphabetic","fontSize":8,"font":"Liberation Sans","color":"#1A1A1A"},
 "encoding":{"text":{"field":"txt"}}},
{"data":{"values":[{"t":"2026-01-13T08:00Z","t2":"2026-01-13T12:41Z","v":157.539,"v2":157.469},{"t":"2026-01-13T08:00Z","t2":"2026-01-13T10:09Z","v":157.552,"v2":157.539}]},
 "mark":{"type":"rect","color":"#323C45"},
 "encoding":{"x2":{"field":"t2"},"y2":{"field":"v2"}}},
{"data":{"values":[{"t":"2026-01-13T08:32Z","v":157.493,"txt":"USDJPY M15"}]},
 "mark":{"type":"text","align":"left","baseline":"alphabetic","fontSize":16,"font":"Liberation Sans","color":"#E3E6E8"},
 "encoding":{"text":{"field":"txt"}}},
{"data":{"values":[{"t":"2026-01-15T13:28Z","t2":"2026-01-15T14:43Z","v":158.267,"v2":158.238}]},
 "mark":{"type":"rect","color":"#000000"},
 "encoding":{"x2":{"field":"t2"},"y2":{"field":"v2"}}},
{"data":{"values":[{"t":"2026-01-15T13:34Z","v":158.253,"txt":"158.253"}]},
 "mark":{"type":"text","align":"left","baseline":"middle","fontSize":8,"font":"Liberation Sans","color":"#FFFFFF"},
 "encoding":{"text":{"field":"txt"}}}
]
}
